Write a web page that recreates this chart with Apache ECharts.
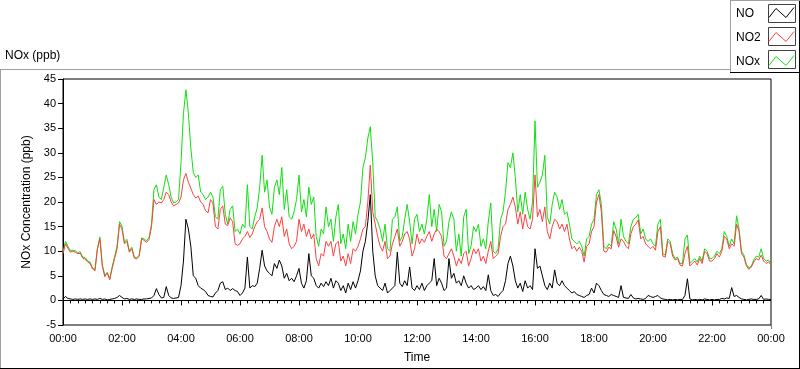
<!DOCTYPE html>
<html>
<head>
<meta charset="utf-8">
<script src="https://cdn.jsdelivr.net/npm/echarts@6/dist/echarts.min.js"></script>
<style>
  html, body { margin: 0; padding: 0; background: #fff; }
  #chart { width: 800px; height: 369px; }
</style>
</head>
<body>
<div id="chart"></div>
<script>
// Sampling step of the series, minutes
const stepMinutes = 5;

const seriesNames = ['NO', 'NO2', 'NOx'];
const xTickLabels = ['00:00', '02:00', '04:00', '06:00', '08:00', '10:00', '12:00',
  '14:00', '16:00', '18:00', '20:00', '22:00', '00:00'];

// NO (ppb), one value every 5 minutes, 00:00 .. 24:00
const no = [
  0.3, 0.8, 0.4, 0.3, 0.2, 0.3, 0.2, 0.3, 0.2, 0.3, 0.2, 0.3,
  0.2, 0.3, 0.2, 0.4, 0.2, 0.3, 0.1, 0.2, 0.3, 0.4, 0.6, 1.0,
  0.6, 0.3, 0.4, 0.2, 0.3, 0.2, 0.3, 0.2, 0.2, 0.3, 0.3, 0.4,
  0.5, 1.0, 2.4, 1.2, 0.5, 0.6, 2.8, 1.0, 0.5, 0.4, 0.5, 0.6,
  3.0, 8.0, 16.5, 14.5, 11.0, 5.0, 4.5, 3.0, 2.5, 2.2, 1.8, 1.0,
  0.8, 0.7, 1.5, 2.0, 3.5, 3.8, 2.2, 2.5, 2.0, 2.4, 2.0, 1.8,
  1.0, 1.5, 2.5, 8.8, 2.5, 3.0, 2.8, 3.5, 6.5, 10.2, 7.0, 6.0,
  5.5, 5.0, 7.5, 6.5, 8.2, 7.0, 4.5, 5.5, 4.0, 4.5, 3.8, 5.0,
  6.5, 3.5, 2.5, 4.0, 9.5, 5.0, 4.5, 3.0, 2.5, 3.5, 2.8, 3.8,
  3.0, 4.5, 2.5, 4.0, 3.5, 2.0, 3.0, 1.5, 3.5, 2.2, 3.8, 2.5,
  4.0, 6.0, 10.0, 12.0, 16.0, 21.5, 10.0, 5.0, 3.0, 2.5, 2.0, 3.5,
  1.5, 2.0, 2.5, 3.0, 9.8, 3.5, 2.8, 4.0, 3.0, 6.8, 2.5, 2.0,
  3.0, 2.2, 3.5, 2.0, 3.0, 3.5, 4.0, 8.5, 3.0, 4.5, 3.5, 2.0,
  2.5, 8.5, 4.5, 5.5, 3.5, 4.0, 3.0, 5.0, 3.5, 2.5, 3.0, 2.2,
  2.5, 3.0, 2.2, 2.8, 2.0, 5.2, 2.0, 1.0, 1.2, 0.8, 1.5, 2.0,
  4.0, 7.5, 9.0, 7.0, 4.0, 2.5, 3.5, 1.8, 4.0, 2.5, 3.0, 2.2,
  10.5, 6.5, 7.0, 5.0, 3.0, 2.2, 3.5, 2.5, 6.2, 3.5, 3.0, 4.0,
  3.0, 2.5, 2.0, 1.5, 1.8, 1.2, 1.0, 0.8, 0.6, 1.0, 1.2, 2.5,
  1.5, 3.5, 3.0, 2.0, 1.2, 1.0, 0.8, 1.2, 1.0, 0.8, 0.6, 3.0,
  0.6, 0.5, 0.4, 1.2, 0.5, 0.3, 0.4, 0.3, 0.2, 0.4, 1.0, 0.8,
  0.6, 0.8, 1.0, 0.5, 0.3, 0.2, 0.1, 0.2, 0.1, 0.2, 0.1, 0.2,
  0.2, 1.0, 4.4, 0.3, 0.1, 0.2, 0.1, 0.2, 0.1, 0.3, 0.2, 0.1,
  0.2, 0.1, 0.2, 0.2, 0.4, 0.3, 0.5, 0.4, 2.6, 0.8, 1.0, 0.6,
  0.3, 0.2, 0.1, 0.2, 0.3, 0.2, 0.2, 0.3, 1.0, 0.2, 0.3, 0.2, 0.2
];

// NO2 (ppb)
const no2 = [
  9.5, 11.5, 10.6, 9.8, 10.0, 9.8, 9.5, 9.6, 8.6, 8.4, 7.8, 7.5,
  6.4, 6.0, 10.4, 12.5, 7.0, 4.8, 5.6, 4.2, 6.5, 8.5, 10.5, 15.5,
  14.5, 11.5, 12.0, 9.8, 10.5, 8.6, 8.4, 9.0, 12.5, 12.2, 11.8, 12.4,
  15.0, 20.5, 19.5, 20.0, 19.8, 20.5, 22.0, 21.5, 20.0, 19.2, 19.5, 19.8,
  21.0, 24.5, 25.8, 24.0, 22.8, 21.5, 20.8, 21.2, 20.0, 19.5, 18.2, 17.8,
  20.5, 19.8, 15.0, 14.5, 18.5, 19.2, 15.5, 15.2, 16.8, 16.0, 11.5, 11.2,
  11.5, 12.5, 13.0, 14.0, 12.8, 13.5, 15.0, 16.0, 16.5, 18.8, 15.0, 14.0,
  12.5, 11.8, 15.0, 16.5, 15.0, 17.0, 13.0, 14.5, 11.5, 10.5, 11.0, 12.0,
  16.5, 14.0, 15.5, 13.0, 14.5, 12.5, 13.5, 8.5, 7.0, 9.5, 9.0, 12.0,
  11.0, 12.0, 9.0, 11.5, 12.0, 8.0, 9.0, 7.0, 9.5, 7.5, 10.5, 10.0,
  11.0, 12.5, 14.5, 15.0, 20.0, 27.5, 18.0, 15.5, 13.0, 11.0, 10.0, 12.0,
  8.5, 9.0, 11.5, 13.0, 14.5, 11.0, 12.0, 13.5, 14.0, 12.5, 9.0, 10.5,
  13.5, 11.5, 12.5, 11.8, 13.0, 14.0, 12.0, 13.5, 14.5, 14.0, 13.0, 9.0,
  8.5, 9.5, 10.5, 9.0, 7.0, 8.5, 7.5, 9.5, 10.0, 7.0, 8.5, 10.5,
  9.5, 10.5, 8.0, 9.0, 7.5, 10.0, 12.0, 8.5, 9.0, 9.5, 13.0, 15.0,
  15.5, 18.5, 19.5, 21.0, 19.0, 15.5, 18.0, 14.5, 17.5, 15.0, 14.5, 16.5,
  25.5, 17.0, 18.5, 16.0, 19.0, 14.0, 12.5, 15.0, 16.5, 16.0, 14.5, 15.5,
  14.0, 15.5, 12.5, 10.5, 11.0, 10.0, 10.8, 10.0, 7.8, 11.0, 11.5, 14.0,
  15.0, 20.0, 21.5, 18.0, 10.0, 9.8, 10.8, 10.5, 14.2, 13.0, 10.8, 12.5,
  12.0, 11.0, 10.5, 13.5, 15.0, 15.5, 16.4, 12.5, 13.0, 11.5, 11.0, 10.5,
  11.0, 10.2, 14.0, 15.0, 9.0, 8.8, 12.0, 11.5, 9.0, 8.2, 8.5, 7.2,
  7.0, 9.5, 11.0, 7.0, 7.5, 8.0, 7.2, 8.5, 7.5, 10.0, 9.5, 8.0,
  8.0, 8.5, 9.5, 8.8, 10.0, 13.0, 12.5, 10.5, 11.5, 11.0, 15.5, 14.0,
  9.5, 8.8, 7.0, 6.3, 6.8, 7.8, 8.5, 8.2, 9.2, 8.0, 7.5, 7.8, 7.2
];

// NOx (ppb)
const nox = [
  9.8, 12.0, 11.0, 10.1, 10.2, 10.1, 9.7, 9.9, 8.8, 8.7, 8.0, 7.8,
  6.6, 6.3, 10.6, 12.9, 7.2, 5.1, 5.7, 4.4, 6.8, 8.9, 11.1, 16.0,
  15.1, 11.8, 12.4, 10.0, 10.8, 8.8, 8.7, 9.2, 12.7, 12.5, 12.1, 12.8,
  15.5, 22.5, 23.5, 21.0, 20.5, 23.0, 25.5, 23.5, 21.0, 19.8, 20.0, 20.5,
  28.0, 38.0, 42.8, 38.0, 31.0, 26.0, 25.0, 25.5, 22.0, 21.5, 20.5, 21.0,
  22.0, 21.0, 17.0, 16.5, 22.5, 23.2, 17.5, 15.5, 18.5, 19.2, 14.0, 14.5,
  13.5, 15.5, 14.8, 23.5, 15.0, 14.5, 17.0, 18.8, 23.0, 29.5, 22.0, 24.5,
  19.0, 17.5, 23.0, 24.5, 21.5, 27.0, 18.5, 22.5, 17.0, 16.5, 18.0, 20.5,
  25.5, 18.0, 20.5, 17.0, 23.0, 19.5, 21.0, 13.0, 11.0, 14.5, 13.5, 19.0,
  15.0, 16.5, 12.0, 17.0, 19.5, 11.5, 13.5, 10.5, 15.5, 12.0, 16.0, 13.5,
  17.5, 20.0, 27.0, 29.0, 33.0, 35.3, 28.0, 17.0, 16.0, 14.5, 12.0, 15.5,
  10.5, 10.0, 16.5, 17.0, 19.0, 12.0, 13.0, 16.5, 19.5, 16.0, 11.5, 16.5,
  17.5, 14.0, 15.5, 13.5, 16.5, 21.5, 15.0, 18.5, 14.0, 19.5, 18.0, 11.0,
  12.0, 16.0, 18.0, 16.5, 10.0, 13.5, 9.0, 17.0, 18.5, 9.5, 11.0, 15.0,
  14.0, 15.5, 11.0, 12.5, 10.5, 16.0, 19.8, 10.0, 9.5, 10.5, 16.5, 18.0,
  22.0, 28.0, 27.0, 30.0, 25.0, 18.0, 21.5, 17.5, 22.0, 18.5, 16.5, 20.0,
  36.5, 23.0, 24.0, 25.5, 29.5, 17.0, 15.5, 19.5, 22.0, 21.0, 18.5, 20.5,
  17.5, 18.0, 15.5, 12.5, 12.0, 11.5, 12.0, 11.0, 9.0, 12.5, 13.0, 15.5,
  16.5, 21.5, 22.5, 19.5, 11.0, 10.5, 11.5, 11.0, 16.0, 14.5, 11.5, 16.5,
  13.0, 12.0, 11.5, 15.0, 16.5, 16.8, 17.5, 13.5, 14.5, 12.5, 12.0, 12.5,
  11.5, 11.0, 15.5, 16.5, 9.5, 9.2, 12.5, 12.0, 9.5, 8.5, 8.8, 7.5,
  7.5, 12.5, 13.3, 7.5, 8.0, 8.5, 7.8, 9.0, 8.0, 10.5, 10.0, 8.5,
  8.5, 9.0, 10.0, 9.5, 10.5, 14.0, 13.0, 11.0, 12.5, 11.5, 17.2, 14.5,
  10.0, 9.2, 7.3, 6.6, 7.0, 8.2, 9.0, 8.8, 10.5, 8.5, 8.0, 8.2, 7.5
];

const colors = { NO: '#000000', NO2: '#ff4040', NOx: '#10e010' };

function toPairs(arr) {
  return arr.map((v, i) => [i * stepMinutes, v]);
}

const chart = echarts.init(document.getElementById('chart'), null, { renderer: 'canvas' });
const legendIcon = 'path://M0,0M27,18M1,13L8,4L18,13L26,3';

const option = {
  animation: false,
  textStyle: { fontFamily: 'Liberation Sans', color: '#000' },
  title: {
    text: 'NOx (ppb)',
    left: 5, top: 50, padding: 0,
    textStyle: { fontSize: 12, fontWeight: 'normal', color: '#000', fontFamily: 'Liberation Sans' }
  },
  legend: {
    orient: 'vertical',
    left: 736, top: 4, padding: 0,
    itemWidth: 27, itemHeight: 18, itemGap: 5,
    align: 'right',
    symbolKeepAspect: false,
    selectedMode: false,
    formatter: name => '{t|' + name + '}',
    textStyle: {
      fontSize: 12, color: '#000', fontFamily: 'Liberation Sans',
      rich: { t: { width: 27, align: 'left', fontSize: 12, color: '#000', fontFamily: 'Liberation Sans' } }
    },
    data: seriesNames.map(n => ({
      name: n,
      icon: legendIcon,
      itemStyle: { color: 'transparent', borderColor: colors[n], borderWidth: 1 }
    }))
  },
  grid: {
    left: 63, right: 29, top: 79, bottom: 40,
    show: true, borderColor: '#000', borderWidth: 1, backgroundColor: '#fff'
  },
  xAxis: {
    type: 'value',
    min: 0, max: 1440, interval: 120,
    name: 'Time', nameLocation: 'middle', nameGap: 27,
    nameTextStyle: { fontSize: 12, color: '#000' },
    axisLine: { show: true, lineStyle: { color: '#000', width: 1 } },
    axisTick: { show: true, length: 5, lineStyle: { color: '#000' } },
    minorTick: { show: true, splitNumber: 8, length: 3, lineStyle: { color: '#000' } },
    splitLine: { show: false },
    axisLabel: {
      fontSize: 11, color: '#000', margin: 8,
      formatter: v => xTickLabels[Math.round(v / 120)]
    }
  },
  yAxis: {
    type: 'value',
    min: -5, max: 45, interval: 5,
    name: 'NOx Concentration (ppb)', nameLocation: 'middle', nameGap: 22,
    nameTextStyle: { fontSize: 12, color: '#000' },
    axisLine: { show: true, lineStyle: { color: '#000', width: 1 } },
    axisTick: { show: true, length: 5, lineStyle: { color: '#000' } },
    splitLine: { show: false },
    axisLabel: { fontSize: 11, color: '#000', margin: 7 }
  },
  series: [
    { name: 'NO', type: 'line', data: toPairs(no), showSymbol: false, symbol: 'none',
      lineStyle: { width: 1, color: colors.NO }, itemStyle: { color: colors.NO }, z: 4 },
    { name: 'NO2', type: 'line', data: toPairs(no2), showSymbol: false, symbol: 'none',
      lineStyle: { width: 1, color: colors.NO2 }, itemStyle: { color: colors.NO2 }, z: 3 },
    { name: 'NOx', type: 'line', data: toPairs(nox), showSymbol: false, symbol: 'none',
      lineStyle: { width: 1, color: colors.NOx }, itemStyle: { color: colors.NOx }, z: 2 }
  ],
  graphic: [
    // outer panel frame
    { type: 'line', shape: { x1: 0, y1: 69.5, x2: 730, y2: 69.5 }, style: { stroke: '#a0a0a0', lineWidth: 1 }, silent: true },
    { type: 'line', shape: { x1: 0.5, y1: 69, x2: 0.5, y2: 369 }, style: { stroke: '#a0a0a0', lineWidth: 1 }, silent: true },
    { type: 'line', shape: { x1: 0, y1: 368.5, x2: 800, y2: 368.5 }, style: { stroke: '#000', lineWidth: 1 }, silent: true },
    { type: 'line', shape: { x1: 799.5, y1: 0, x2: 799.5, y2: 369 }, style: { stroke: '#000', lineWidth: 1 }, silent: true },
    // legend frame
    { type: 'line', shape: { x1: 730, y1: 0.5, x2: 800, y2: 0.5 }, style: { stroke: '#a0a0a0', lineWidth: 1 }, silent: true },
    { type: 'line', shape: { x1: 730.5, y1: 0, x2: 730.5, y2: 72 }, style: { stroke: '#a0a0a0', lineWidth: 1 }, silent: true },
    { type: 'line', shape: { x1: 730, y1: 72.5, x2: 800, y2: 72.5 }, style: { stroke: '#000', lineWidth: 1 }, silent: true },
    // legend icon boxes
    { type: 'rect', shape: { x: 768.5, y: 4.5, width: 27, height: 18 }, style: { fill: 'none', stroke: '#404040', lineWidth: 1 }, silent: true },
    { type: 'rect', shape: { x: 768.5, y: 27.5, width: 27, height: 18 }, style: { fill: 'none', stroke: '#404040', lineWidth: 1 }, silent: true },
    { type: 'rect', shape: { x: 768.5, y: 50.5, width: 27, height: 18 }, style: { fill: 'none', stroke: '#404040', lineWidth: 1 }, silent: true },
    // plot right border (grey)
    { type: 'line', shape: { x1: 771.5, y1: 79, x2: 771.5, y2: 329 }, style: { stroke: '#808080', lineWidth: 1 }, silent: true, z: 10 }
  ]
};

chart.setOption(option);
</script>
</body>
</html>
